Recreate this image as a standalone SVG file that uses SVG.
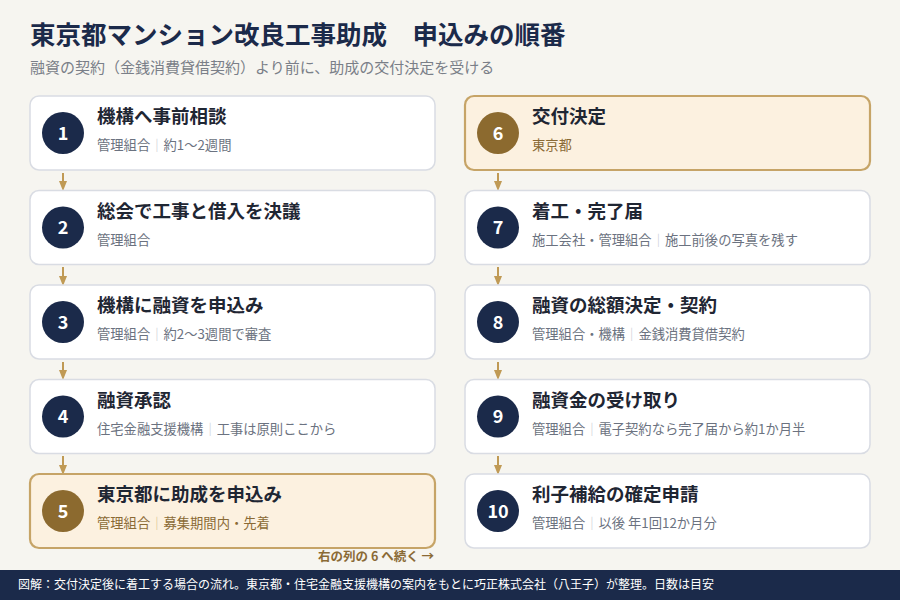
<svg xmlns="http://www.w3.org/2000/svg" width="900" height="600" viewBox="0 0 900 600">
<defs>
<style>
text{font-family:"Noto Sans CJK JP","Noto Sans",sans-serif}
.bg{fill:#f6f5f0}
.box{fill:#ffffff;stroke:#d9dce3;stroke-width:1.5}
.hbox{fill:#fcf1e0;stroke:#c6a467;stroke-width:2.2}
.c{fill:#1b2a4a}
.hc{fill:#8c6a2f}
.num{fill:#ffffff;font-size:18px;font-weight:700;text-anchor:middle}
.t{fill:#1f2633;font-size:18.5px;font-weight:700}
.s{fill:#6b7280;font-size:13.3px}
.hs{fill:#8a6a35;font-size:13.3px}
.bar{fill:#c8ccd4}
.hbar{fill:#d7bf93}
.arr{stroke:#c09a55;stroke-width:2;fill:none}
</style>
<marker id="ah" viewBox="0 0 10 10" refX="5" refY="5" markerWidth="10" markerHeight="10" markerUnits="userSpaceOnUse" orient="auto">
<path d="M0,1 L10,5 L0,9 Z" fill="#c09a55"/>
</marker>
</defs>
<rect class="bg" x="0" y="0" width="900" height="600"/>
<g id="header">
<text x="30" y="44" style="font-size:25.5px;font-weight:700;fill:#1b2a4a">東京都マンション改良工事助成　申込みの順番</text>
<text x="30" y="73" style="font-size:15px;fill:#7a7f88">融資の契約（金銭消費貸借契約）より前に、助成の交付決定を受ける</text>
</g>
<g id="connectors">
<line class="arr" x1="63" y1="173" x2="63" y2="186" marker-end="url(#ah)"/>
<line class="arr" x1="63" y1="267" x2="63" y2="281" marker-end="url(#ah)"/>
<line class="arr" x1="63" y1="362" x2="63" y2="375" marker-end="url(#ah)"/>
<line class="arr" x1="63" y1="456" x2="63" y2="470" marker-end="url(#ah)"/>
<line class="arr" x1="498" y1="173" x2="498" y2="186" marker-end="url(#ah)"/>
<line class="arr" x1="498" y1="267" x2="498" y2="281" marker-end="url(#ah)"/>
<line class="arr" x1="498" y1="362" x2="498" y2="375" marker-end="url(#ah)"/>
<line class="arr" x1="498" y1="456" x2="498" y2="470" marker-end="url(#ah)"/>
</g>
<g id="step1">
<rect class="box" x="30" y="96" width="405" height="74" rx="9"/>
<circle class="c" cx="63" cy="133" r="21"/>
<text class="num" x="63" y="139.5">1</text>
<text class="t" x="97" y="123">機構へ事前相談</text>
<text class="s" x="97" y="150">管理組合<tspan class="bar">｜</tspan>約1〜2週間</text>
</g>
<g id="step2">
<rect class="box" x="30" y="190.5" width="405" height="74" rx="9"/>
<circle class="c" cx="63" cy="227.5" r="21"/>
<text class="num" x="63" y="234">2</text>
<text class="t" x="97" y="217.5">総会で工事と借入を決議</text>
<text class="s" x="97" y="244.5">管理組合</text>
</g>
<g id="step3">
<rect class="box" x="30" y="285" width="405" height="74" rx="9"/>
<circle class="c" cx="63" cy="322" r="21"/>
<text class="num" x="63" y="328.5">3</text>
<text class="t" x="97" y="312">機構に融資を申込み</text>
<text class="s" x="97" y="339">管理組合<tspan class="bar">｜</tspan>約2〜3週間で審査</text>
</g>
<g id="step4">
<rect class="box" x="30" y="379.5" width="405" height="74" rx="9"/>
<circle class="c" cx="63" cy="416.5" r="21"/>
<text class="num" x="63" y="423">4</text>
<text class="t" x="97" y="406.5">融資承認</text>
<text class="s" x="97" y="433.5">住宅金融支援機構<tspan class="bar">｜</tspan>工事は原則ここから</text>
</g>
<g id="step5">
<rect class="hbox" x="30" y="474" width="405" height="74" rx="9"/>
<circle class="hc" cx="63" cy="511" r="21"/>
<text class="num" x="63" y="517.5">5</text>
<text class="t" x="97" y="501">東京都に助成を申込み</text>
<text class="hs" x="97" y="528">管理組合<tspan class="hbar">｜</tspan>募集期間内・先着</text>
</g>
<g id="continue">
<text x="434" y="561" style="font-size:12.5px;font-weight:700;fill:#8a6a35;text-anchor:end">右の列の 6 へ続く →</text>
</g>
<g id="step6">
<rect class="hbox" x="465" y="96" width="405" height="74" rx="9"/>
<circle class="hc" cx="498" cy="133" r="21"/>
<text class="num" x="498" y="139.5">6</text>
<text class="t" x="532" y="123">交付決定</text>
<text class="hs" x="532" y="150">東京都</text>
</g>
<g id="step7">
<rect class="box" x="465" y="190.5" width="405" height="74" rx="9"/>
<circle class="c" cx="498" cy="227.5" r="21"/>
<text class="num" x="498" y="234">7</text>
<text class="t" x="532" y="217.5">着工・完了届</text>
<text class="s" x="532" y="244.5">施工会社・管理組合<tspan class="bar">｜</tspan>施工前後の写真を残す</text>
</g>
<g id="step8">
<rect class="box" x="465" y="285" width="405" height="74" rx="9"/>
<circle class="c" cx="498" cy="322" r="21"/>
<text class="num" x="498" y="328.5">8</text>
<text class="t" x="532" y="312">融資の総額決定・契約</text>
<text class="s" x="532" y="339">管理組合・機構<tspan class="bar">｜</tspan>金銭消費貸借契約</text>
</g>
<g id="step9">
<rect class="box" x="465" y="379.5" width="405" height="74" rx="9"/>
<circle class="c" cx="498" cy="416.5" r="21"/>
<text class="num" x="498" y="423">9</text>
<text class="t" x="532" y="406.5">融資金の受け取り</text>
<text class="s" x="532" y="433.5">管理組合<tspan class="bar">｜</tspan>電子契約なら完了届から約1か月半</text>
</g>
<g id="step10">
<rect class="box" x="465" y="474" width="405" height="74" rx="9"/>
<circle class="c" cx="498" cy="511" r="21"/>
<text class="num" x="498" y="517.5">10</text>
<text class="t" x="532" y="501">利子補給の確定申請</text>
<text class="s" x="532" y="528">管理組合<tspan class="bar">｜</tspan>以後 年1回12か月分</text>
</g>
<g id="footer">
<rect x="0" y="570" width="900" height="30" fill="#1b2a4a"/>
<text x="18" y="589" style="font-size:12px;fill:#ffffff">図解：交付決定後に着工する場合の流れ。東京都・住宅金融支援機構の案内をもとに巧正株式会社（八王子）が整理。日数は目安</text>
</g>
</svg>
